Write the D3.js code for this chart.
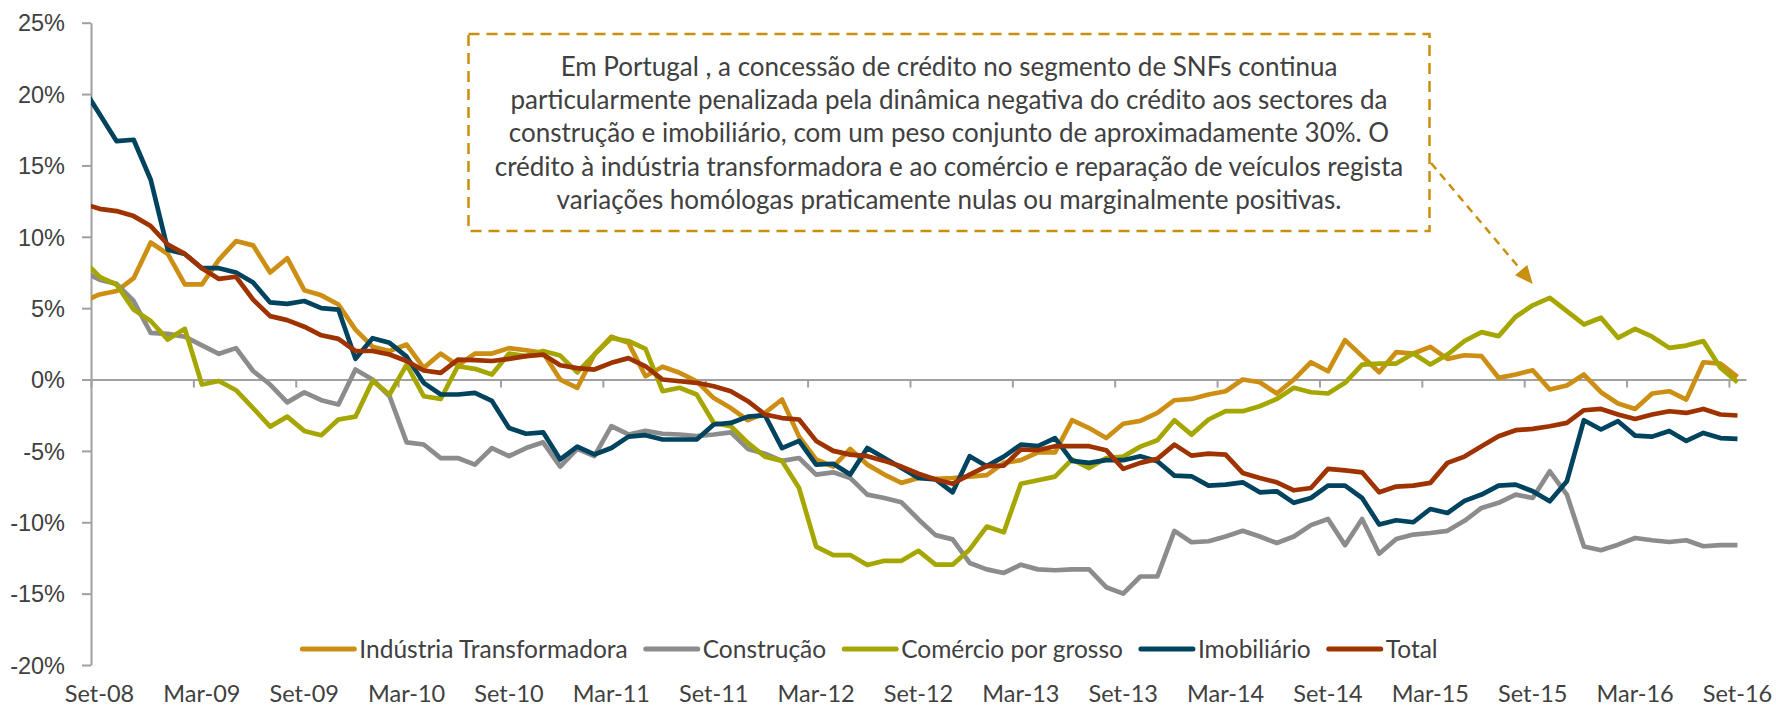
<!DOCTYPE html>
<html lang="pt">
<head>
<meta charset="utf-8">
<title>Crédito a SNFs por sector</title>
<script src="https://cdn.jsdelivr.net/npm/d3@7/dist/d3.min.js"></script>
<style>
  html, body { margin: 0; background: #fff; }
  svg { display: block; font-family: Lato, "Open Sans", sans-serif; }
  .axis path, .axis line { stroke: #a0a0a0; stroke-width: 2; }
  .axis text, .x-label { fill: #404040; font-size: 23.5px; }
  .legend-label { fill: #404040; font-size: 24.5px; }
  .note-text { fill: #404040; font-size: 26px; }
  .series { fill: none; stroke-width: 4.7; stroke-linejoin: round; }
</style>
</head>
<body>
<svg id="chart" width="1776" height="710"></svg>
<script>
// Monthly data, Ago-08 .. Set-16. Ago-08 lies left of the axis and only shows as the clipped first segment.
const monthNames = ["Jan", "Fev", "Mar", "Abr", "Mai", "Jun", "Jul", "Ago", "Set", "Out", "Nov", "Dez"];
const months = d3.range(98).map((k) => {
  const t = 7 + k;
  return `${monthNames[t % 12]}-${String(8 + Math.floor(t / 12)).padStart(2, "0")}`;
});

const tickLabels = ["Set-08", "Mar-09", "Set-09", "Mar-10", "Set-10", "Mar-11", "Set-11", "Mar-12", "Set-12",
  "Mar-13", "Set-13", "Mar-14", "Set-14", "Mar-15", "Set-15", "Mar-16", "Set-16"];
const yTicks = [25, 20, 15, 10, 5, 0, -5, -10, -15, -20];

const industria = [5.44, 5.96, 6.2, 7.1, 9.6, 8.8, 6.66, 6.66, 8.4, 9.7, 9.4, 7.5, 8.5, 6.26, 5.9, 5.26, 3.5,
  2.3, 2.0, 2.45, 0.82, 1.82, 0.98, 1.82, 1.82, 2.2, 2.05, 1.87, 0, -0.58, 1.75, 3.0, 2.57, 0.23,
  0.9, 0.47, -0.12, -1.3, -2.0, -2.85, -2.34, -1.4, -4.0, -5.6, -6.1, -4.86, -5.96, -6.66, -7.24, -6.9,
  -6.96, -6.9, -6.8, -6.7, -5.84, -5.65, -5.1, -5.1, -2.85, -3.4, -4.1, -3.1, -2.9, -2.34, -1.45, -1.36,
  -1.05, -0.82, 0, -0.19, -0.98, 0, 1.21, 0.58, 2.76, 1.64, 0.51, 1.92, 1.82, 2.29, 1.45, 1.7,
  1.64, 0.12, 0.35, 0.65, -0.7, -0.42, 0.35, -0.89, -1.68, -2.06, -0.98, -0.82, -1.4, 1.21, 1.12, 0.19];

const construcao = [7.6, 7.0, 6.7, 5.5, 3.27, 3.2, 3.0, 2.4, 1.8, 2.2, 0.6, -0.35, -1.6, -0.9, -1.45, -1.75, 0.7,
  0, -1.17, -4.4, -4.55, -5.5, -5.5, -5.96, -4.8, -5.37, -4.8, -4.4, -6.1, -4.86, -5.37, -3.27, -3.85, -3.6,
  -3.8, -3.85, -3.97, -3.85, -3.7, -4.86, -5.2, -5.7, -5.5, -6.66, -6.5, -6.9, -8.06, -8.3, -8.6, -9.8,
  -10.9, -11.2, -12.85, -13.3, -13.55, -12.97, -13.3, -13.36, -13.3, -13.3, -14.55, -15.0, -13.8, -13.8, -10.6, -11.4,
  -11.33, -11.0, -10.6, -11.0, -11.45, -11.0, -10.2, -9.77, -11.6, -9.77, -12.2, -11.17, -10.86, -10.75, -10.6, -9.9,
  -9.0, -8.64, -8.06, -8.3, -6.43, -8.06, -11.7, -11.96, -11.57, -11.1, -11.26, -11.38, -11.26, -11.68, -11.6, -11.6];

const comercio = [8.4, 7.2, 6.65, 4.9, 4.1, 2.8, 3.55, -0.35, -0.1, -0.75, -2.0, -3.3, -2.6, -3.6, -3.9, -2.8, -2.6,
  -0.1, -1.05, 1.05, -1.17, -1.35, 0.93, 0.75, 0.35, 1.82, 1.64, 2.0, 1.68, 0.5, 1.75, 2.9, 2.7, 2.15,
  -0.82, -0.58, -1.05, -3.04, -3.27, -4.44, -5.4, -5.7, -7.6, -11.7, -12.3, -12.3, -13.0, -12.7, -12.7, -12.0,
  -12.97, -12.97, -11.9, -10.3, -10.7, -7.3, -7.06, -6.8, -5.6, -6.2, -5.5, -5.4, -4.7, -4.25, -2.85, -3.86,
  -2.8, -2.22, -2.22, -1.87, -1.36, -0.58, -0.89, -0.98, -0.23, 1.05, 1.12, 1.12, 1.82, 1.05, 1.75, 2.7,
  3.32, 3.04, 4.4, 5.2, 5.72, 4.79, 3.86, 4.33, 2.92, 3.55, 3.0, 2.22, 2.38, 2.69, 0.82, -0.19];

const imobiliario = [20.5, 18.6, 16.7, 16.8, 14.0, 9.1, 8.8, 7.8, 7.8, 7.5, 6.8, 5.4, 5.3, 5.5, 5.0, 4.9, 1.45,
  2.9, 2.57, 1.6, -0.23, -1.05, -1.05, -0.93, -1.5, -3.4, -3.8, -3.7, -5.6, -4.7, -5.25, -4.8, -4.0, -3.9,
  -4.2, -4.2, -4.2, -3.15, -3.04, -2.6, -2.5, -4.8, -4.3, -5.96, -5.9, -6.66, -4.8, -5.5, -6.2, -6.9,
  -7.0, -7.9, -5.37, -6.07, -5.4, -4.56, -4.67, -4.1, -5.7, -5.84, -5.65, -5.65, -5.37, -5.72, -6.73, -6.78,
  -7.43, -7.36, -7.2, -7.9, -7.83, -8.64, -8.3, -7.43, -7.43, -8.3, -10.16, -9.86, -10.0, -9.07, -9.35, -8.5,
  -8.06, -7.43, -7.36, -7.83, -8.53, -7.13, -2.85, -3.5, -2.92, -3.93, -4.0, -3.6, -4.3, -3.74, -4.1, -4.16];

const total = [12.34, 11.96, 11.8, 11.45, 10.75, 9.46, 8.8, 7.8, 7.05, 7.2, 5.6, 4.44, 4.16, 3.7, 3.1, 2.85, 2.0,
  2.0, 1.75, 1.3, 0.63, 0.47, 1.4, 1.36, 1.3, 1.45, 1.64, 1.75, 1.0, 0.8, 0.7, 1.17, 1.5, 0.93,
  0, -0.12, -0.23, -0.47, -0.82, -1.52, -2.45, -2.7, -2.8, -4.3, -5.0, -5.26, -5.37, -5.7, -6.1, -6.6,
  -7.0, -7.3, -6.66, -6.07, -6.03, -4.9, -4.95, -4.67, -4.67, -4.67, -4.95, -6.26, -5.84, -5.56, -4.56, -5.33,
  -5.19, -5.26, -6.54, -6.9, -7.2, -7.76, -7.6, -6.26, -6.36, -6.5, -7.9, -7.5, -7.43, -7.24, -5.84, -5.4,
  -4.67, -3.97, -3.55, -3.46, -3.27, -3.04, -2.15, -2.06, -2.45, -2.76, -2.45, -2.22, -2.34, -2.06, -2.45, -2.52];

const series = [
  { name: "Indústria Transformadora", values: industria, color: "#cc8f14" },
  { name: "Construção", values: construcao, color: "#8c8c8c" },
  { name: "Comércio por grosso", values: comercio, color: "#a6a600" },
  { name: "Imobiliário", values: imobiliario, color: "#00435e" },
  { name: "Total", values: total, color: "#9e3300" },
];

const noteLines = [
  "Em Portugal , a concessão de crédito no segmento de SNFs continua",
  "particularmente penalizada pela dinâmica negativa do crédito aos sectores da",
  "construção e imobiliário, com um peso conjunto de aproximadamente 30%. O",
  "crédito à indústria transformadora e ao comércio e reparação de veículos regista",
  "variações homólogas praticamente nulas ou marginalmente positivas.",
];

const svg = d3.select("#chart");
const plotLeft = 91;
const plotRight = 1746;

// category centres sit half a month right of the monthly tick marks
const x = d3.scaleLinear().domain([0.5, months.length - 0.5]).range([plotLeft, plotRight]);
const y = d3.scaleLinear().domain([-20, 25]).range([665, 22.7]);

svg.append("defs")
  .append("clipPath")
  .attr("id", "plot-clip")
  .append("rect")
  .attr("x", plotLeft)
  .attr("y", 0)
  .attr("width", plotRight - plotLeft)
  .attr("height", 710);

// x axis runs along the zero line, labels sit under the plot
const tickPositions = tickLabels.map((label) => months.indexOf(label) - 0.5);

svg.append("g")
  .attr("class", "axis")
  .attr("transform", `translate(0,${y(0)})`)
  .call(d3.axisBottom(x).tickValues(tickPositions).tickFormat("").tickSize(8).tickSizeOuter(0));

svg.append("g")
  .selectAll("text")
  .data(tickLabels)
  .join("text")
  .attr("class", "x-label")
  .attr("x", (label) => x(months.indexOf(label)))
  .attr("y", 694)
  .attr("dy", "0.35em")
  .attr("text-anchor", "middle")
  .text((label) => label);

svg.append("g")
  .attr("class", "axis")
  .attr("transform", `translate(${plotLeft},0)`)
  .call(d3.axisLeft(y).tickValues(yTicks).tickFormat((d) => `${d}%`).tickSize(9).tickPadding(17).tickSizeOuter(0))
  .call((g) => g.selectAll("text").attr("dy", "0.35em"));

const line = d3.line()
  .x((d, i) => x(i))
  .y((d) => y(d));

svg.append("g")
  .attr("clip-path", "url(#plot-clip)")
  .selectAll("path")
  .data(series)
  .join("path")
  .attr("class", "series")
  .attr("stroke", (s) => s.color)
  .attr("d", (s) => line(s.values));

// legend, centred under the plot
const legend = svg.append("g").attr("transform", "translate(0,649)");
const items = legend.selectAll("g").data(series).join("g");

items.append("line")
  .attr("x1", 0)
  .attr("x2", 52)
  .attr("stroke", (s) => s.color)
  .attr("stroke-width", 5)
  .attr("stroke-linecap", "round");

items.append("text")
  .attr("class", "legend-label")
  .attr("x", 57)
  .attr("dy", "0.35em")
  .text((s) => s.name);

let offset = 0;
const offsets = [];
items.each(function eachItem() {
  offsets.push(offset);
  offset += 57 + this.querySelector("text").getComputedTextLength() + 18;
});
const legendStart = 870 - (offset - 18) / 2;
items.attr("transform", (s, i) => `translate(${legendStart + offsets[i]},0)`);

// annotation box with dashed arrow to the Comércio peak
const noteColor = "#c8900e";
const box = { x: 468.5, y: 34, width: 961, height: 197 };

svg.append("rect")
  .attr("x", box.x)
  .attr("y", box.y)
  .attr("width", box.width)
  .attr("height", box.height)
  .attr("fill", "#fff")
  .attr("stroke", noteColor)
  .attr("stroke-width", 2.5)
  .attr("stroke-dasharray", "11,7");

svg.append("g")
  .selectAll("text")
  .data(noteLines)
  .join("text")
  .attr("class", "note-text")
  .attr("x", box.x + box.width / 2)
  .attr("y", (d, i) => 66.7 + i * 33.3)
  .attr("dy", "0.35em")
  .attr("text-anchor", "middle")
  .text((d) => d);

const peakIndex = months.indexOf("Set-15");
const start = [box.x + box.width + 1.5, 163];
const tip = [x(peakIndex), y(comercio[peakIndex] + 1.5)];
const dx = tip[0] - start[0];
const dy = tip[1] - start[1];
const len = Math.hypot(dx, dy);
const ux = dx / len;
const uy = dy / len;
const headLength = 18;
const headWidth = 8;
const base = [tip[0] - ux * headLength, tip[1] - uy * headLength];

svg.append("line")
  .attr("x1", start[0])
  .attr("y1", start[1])
  .attr("x2", base[0])
  .attr("y2", base[1])
  .attr("stroke", noteColor)
  .attr("stroke-width", 2.5)
  .attr("stroke-dasharray", "8,6");

svg.append("path")
  .attr("fill", noteColor)
  .attr("d", `M${tip[0]},${tip[1]}L${base[0] - uy * headWidth},${base[1] + ux * headWidth}L${base[0] + uy * headWidth},${base[1] - ux * headWidth}Z`);
</script>
</body>
</html>
